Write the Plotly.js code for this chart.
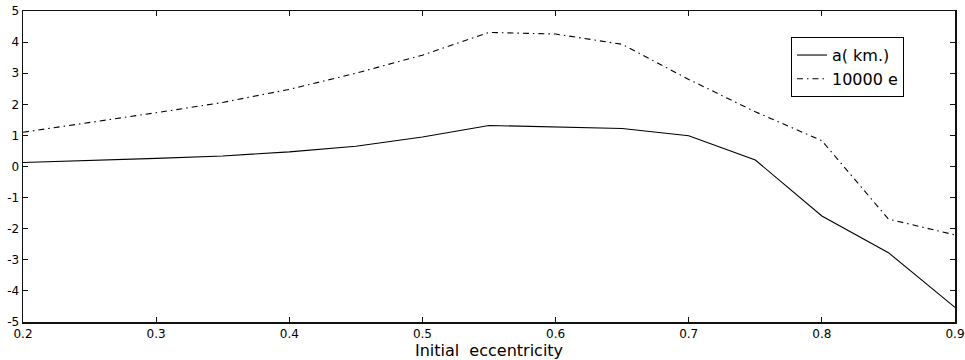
<!DOCTYPE html>
<html>
<head>
<meta charset="utf-8">
<script src="https://cdn.plot.ly/plotly-3.0.1.min.js"></script>
<style>html,body{margin:0;padding:0;background:#fff;}#chart{width:965px;height:360px;}</style>
</head>
<body>
<div id="chart"></div>
<script>
const eccentricity = [0.2, 0.25, 0.3, 0.35, 0.4, 0.45, 0.5, 0.55, 0.6, 0.65, 0.7, 0.75, 0.8, 0.85, 0.9];
const aKm = [0.13, 0.19, 0.26, 0.34, 0.47, 0.65, 0.95, 1.32, 1.28, 1.22, 0.99, 0.21, -1.59, -2.77, -4.53];
const e10000 = [1.1, 1.41, 1.73, 2.06, 2.48, 3.0, 3.58, 4.31, 4.26, 3.93, 2.8, 1.76, 0.83, -1.69, -2.2];
const seriesNames = ["a( km.)", "10000 e"];
const xTicks = [0.2, 0.3, 0.4, 0.5, 0.6, 0.7, 0.8, 0.9];
const xTickText = ["0.2", "0.3", "0.4", "0.5", "0.6", "0.7", "0.8", "0.9"];
const yTicks = [-5, -4, -3, -2, -1, 0, 1, 2, 3, 4, 5];
const yTickText = ["-5", "-4", "-3", "-2", "-1", "0", "1", "2", "3", "4", "5"];

const font = "DejaVu Sans, Arial, sans-serif";
const traces = [
  {x: eccentricity, y: aKm, name: seriesNames[0], mode: "lines",
   line: {color: "#000", width: 1.1}},
  {x: eccentricity, y: e10000, name: seriesNames[1], mode: "lines",
   line: {color: "#000", width: 1.1, dash: "6px,4px,1.5px,4px"}}
];
const axisCommon = {
  showline: true, linecolor: "#111", linewidth: 1.5, mirror: "ticks",
  ticks: "inside", ticklen: 5, tickwidth: 1, tickcolor: "#111",
  showgrid: false, zeroline: false,
  tickfont: {family: font, size: 12, color: "#000"}
};
const layout = {
  width: 965, height: 360,
  margin: {l: 23, r: 10, t: 11, b: 38, pad: 0},
  paper_bgcolor: "#fff", plot_bgcolor: "#fff",
  showlegend: true,
  legend: {x: 0.824, y: 0.916, xanchor: "left", yanchor: "top",
           bgcolor: "#fff", bordercolor: "#000", borderwidth: 1,
           font: {family: font, size: 16, color: "#000"}, tracegroupgap: 0},
  xaxis: Object.assign({}, axisCommon, {
    range: [0.2, 0.9], tickvals: xTicks, ticktext: xTickText,
    title: {text: "Initial\u00a0\u00a0eccentricity", font: {family: font, size: 16, color: "#000"}, standoff: 2}
  }),
  yaxis: Object.assign({}, axisCommon, {
    range: [-5, 5], tickvals: yTicks, ticktext: yTickText
  })
};
Plotly.newPlot("chart", traces, layout, {displayModeBar: false, staticPlot: true});
</script>
</body>
</html>
